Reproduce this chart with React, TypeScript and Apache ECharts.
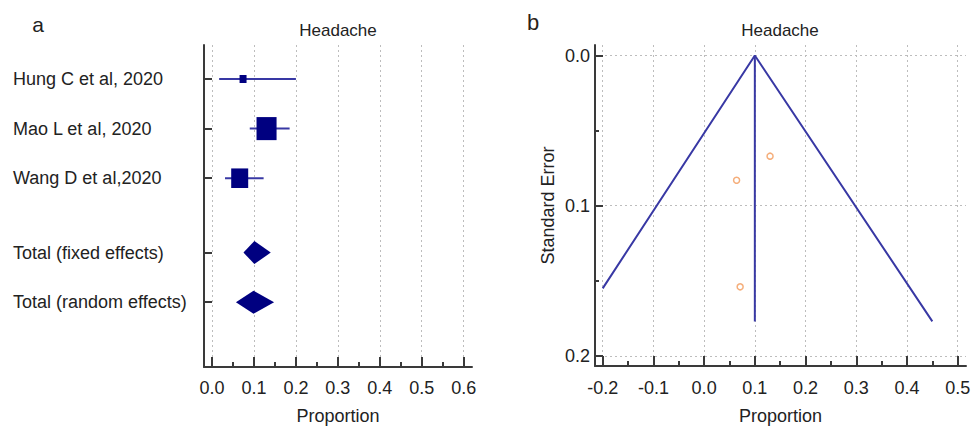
import React, { useEffect, useRef } from 'react';
import * as echarts from 'echarts';

// ---- Panel a: forest plot data ----
const studyNames = ['Hung C et al, 2020', 'Mao L et al, 2020', 'Wang D et al,2020'];
const studyRows = [1, 2, 3];
const studyEst = [0.074, 0.13, 0.066];
const studyLo = [0.017, 0.09, 0.031];
const studyHi = [0.2, 0.185, 0.123];
const studyWeight = [6.6, 54.3, 39.1];

const pooledNames = ['Total (fixed effects)', 'Total (random effects)'];
const pooledRows = [4.5, 5.5];
const pooledEst = [0.101, 0.099];
const pooledLo = [0.075, 0.057];
const pooledHi = [0.14, 0.148];

const forestTicks = [0, 0.1, 0.2, 0.3, 0.4, 0.5, 0.6];
const forestMinor = [0.05, 0.15, 0.25, 0.35, 0.45, 0.55];

// ---- Panel b: funnel plot data ----
const funnelTicksX = [-0.2, -0.1, 0, 0.1, 0.2, 0.3, 0.4, 0.5];
const funnelMinorX = [-0.15, -0.05, 0.05, 0.15, 0.25, 0.35, 0.45];
const funnelTicksY = [0, 0.1, 0.2];
const funnelMinorY = [0.05, 0.15];

const pointProportion = [0.13, 0.064, 0.071];
const pointSE = [0.067, 0.083, 0.154];

const funnelEdgeX = [-0.2, 0.1, 0.45];
const funnelEdgeSE = [0.155, 0, 0.177];
const funnelMidX = [0.1, 0.1];
const funnelMidSE = [0, 0.177];

const FONT = '"Liberation Sans", Arial, sans-serif';
const AXIS = '#3a3a3a';
const GRID = '#bdbdbd';
const NAVY = '#000080';
const LINE = '#3838a4';

const allRows = [...studyRows, ...pooledRows];
const allNames = [...studyNames, ...pooledNames];
const rowLabel = (v: number) => {
  const i = allRows.findIndex((r) => Math.abs(r - v) < 1e-6);
  return i >= 0 ? allNames[i] : '';
};

export default function App() {
  const ref = useRef<HTMLDivElement>(null);
  useEffect(() => {
    if (!ref.current) return;
    const chart = echarts.init(ref.current, undefined, { renderer: 'svg' });
    const axisLine = { onZero: false, lineStyle: { color: AXIS, width: 2 } };
    const tickStyle = { color: AXIS, width: 2 };
    const labelStyle = { fontSize: 18, color: '#222', fontFamily: FONT };
    const fmt = (v: number) => v.toFixed(1);
    const option: any = {
      animation: false,
      textStyle: { fontFamily: FONT },
      graphic: [
        { type: 'text', x: 338, y: 30, style: { text: 'Headache', fontSize: 17, fill: '#222', align: 'center', verticalAlign: 'middle', fontFamily: FONT } },
        { type: 'text', x: 780, y: 30, style: { text: 'Headache', fontSize: 17, fill: '#222', align: 'center', verticalAlign: 'middle', fontFamily: FONT } },
        { type: 'text', x: 38, y: 24, style: { text: 'a', fontSize: 21, fill: '#222', align: 'center', verticalAlign: 'middle', fontFamily: FONT } },
        { type: 'text', x: 533, y: 22, style: { text: 'b', fontSize: 22, fill: '#2a2218', align: 'center', verticalAlign: 'middle', fontFamily: FONT } },
      ],
      grid: [
        { left: 204, top: 45, width: 268, height: 322, containLabel: false, outerBoundsMode: 'none' },
        { left: 595, top: 45, width: 371, height: 321, containLabel: false, outerBoundsMode: 'none' },
      ],
      xAxis: [
        {
          gridIndex: 0, type: 'value', min: -0.0191, max: 0.6198, position: 'bottom',
          axisLine,
          axisTick: { inside: true, length: 10, customValues: forestTicks, lineStyle: tickStyle },
          axisLabel: { customValues: forestTicks, formatter: fmt, margin: 12, ...labelStyle },
          splitLine: { show: true, lineStyle: { color: GRID, type: [2, 3], width: 1 } },
          name: 'Proportion', nameLocation: 'middle', nameGap: 40, nameTextStyle: labelStyle,
        },
        {
          gridIndex: 0, type: 'value', min: -0.0191, max: 0.6198, position: 'bottom',
          axisLine: { show: false, onZero: false },
          axisTick: { inside: true, length: 5, customValues: forestMinor, lineStyle: tickStyle },
          axisLabel: { show: false }, splitLine: { show: false },
        },
        {
          gridIndex: 1, type: 'value', min: -0.2152, max: 0.5164, position: 'bottom',
          axisLine,
          axisTick: { inside: true, length: 10, customValues: funnelTicksX, lineStyle: tickStyle },
          axisLabel: { customValues: funnelTicksX, formatter: fmt, margin: 13, ...labelStyle },
          splitLine: { show: true, lineStyle: { color: GRID, type: [2, 3], width: 1 } },
          name: 'Proportion', nameLocation: 'middle', nameGap: 41, nameTextStyle: labelStyle,
        },
        {
          gridIndex: 1, type: 'value', min: -0.2152, max: 0.5164, position: 'bottom',
          axisLine: { show: false, onZero: false },
          axisTick: { inside: true, length: 5, customValues: funnelMinorX, lineStyle: tickStyle },
          axisLabel: { show: false }, splitLine: { show: false },
        },
      ],
      yAxis: [
        {
          gridIndex: 0, type: 'value', inverse: true, min: 0.3145, max: 6.806, position: 'left',
          axisLine,
          axisTick: { inside: true, length: 8, customValues: allRows, lineStyle: tickStyle },
          axisLabel: { customValues: allRows, formatter: rowLabel, align: 'left', margin: 191, ...labelStyle },
          splitLine: { show: false },
        },
        {
          gridIndex: 1, type: 'value', inverse: true, min: -0.007, max: 0.2067, position: 'left',
          axisLine,
          axisTick: { inside: true, length: 8, customValues: funnelTicksY, lineStyle: tickStyle },
          axisLabel: { customValues: funnelTicksY, formatter: fmt, margin: 5, ...labelStyle },
          splitLine: { show: true, lineStyle: { color: GRID, type: [2, 3], width: 1 } },
          name: 'Standard Error', nameLocation: 'middle', nameGap: 38, nameRotate: 90, nameTextStyle: labelStyle,
        },
        {
          gridIndex: 1, type: 'value', inverse: true, min: -0.007, max: 0.2067, position: 'left',
          axisLine: { show: false, onZero: false },
          axisTick: { inside: true, length: 4, customValues: funnelMinorY, lineStyle: tickStyle },
          axisLabel: { show: false }, splitLine: { show: false },
        },
      ],
      series: [
        {
          type: 'custom', xAxisIndex: 0, yAxisIndex: 0,
          data: studyNames.map((_, i) => [studyEst[i], studyLo[i], studyHi[i], studyRows[i], studyWeight[i]]),
          encode: { x: [0, 1, 2], y: 3 },
          renderItem: (params: any, api: any) => {
            const y = api.value(3);
            const c = api.coord([api.value(0), y]);
            const l = api.coord([api.value(1), y]);
            const h = api.coord([api.value(2), y]);
            const w = 2.72 * Math.sqrt(api.value(4));
            const hh = w * 1.15;
            return {
              type: 'group',
              children: [
                { type: 'line', shape: { x1: l[0], y1: l[1], x2: h[0], y2: h[1] }, style: { stroke: LINE, lineWidth: 2 } },
                { type: 'rect', shape: { x: c[0] - w / 2, y: c[1] - hh / 2, width: w, height: hh }, style: { fill: NAVY } },
              ],
            };
          },
        },
        {
          type: 'custom', xAxisIndex: 0, yAxisIndex: 0,
          data: pooledNames.map((_, i) => [pooledEst[i], pooledLo[i], pooledHi[i], pooledRows[i]]),
          encode: { x: [0, 1, 2], y: 3 },
          renderItem: (params: any, api: any) => {
            const y = api.value(3);
            const c = api.coord([api.value(0), y]);
            const l = api.coord([api.value(1), y]);
            const h = api.coord([api.value(2), y]);
            return {
              type: 'polygon',
              shape: { points: [[l[0], l[1]], [c[0], c[1] - 11.5], [h[0], h[1]], [c[0], c[1] + 11.5]] },
              style: { fill: NAVY },
            };
          },
        },
        {
          type: 'line', xAxisIndex: 2, yAxisIndex: 1, showSymbol: false, symbol: 'none',
          data: funnelEdgeX.map((x, i) => [x, funnelEdgeSE[i]]),
          lineStyle: { color: LINE, width: 2 },
        },
        {
          type: 'line', xAxisIndex: 2, yAxisIndex: 1, showSymbol: false, symbol: 'none',
          data: funnelMidX.map((x, i) => [x, funnelMidSE[i]]),
          lineStyle: { color: LINE, width: 2 },
        },
        {
          type: 'scatter', xAxisIndex: 2, yAxisIndex: 1, symbol: 'circle', symbolSize: 6,
          data: pointProportion.map((x, i) => [x, pointSE[i]]),
          itemStyle: { color: '#ffffff', borderColor: '#f39a5a', borderWidth: 1.5 },
        },
      ],
    };
    chart.setOption(option);
    return () => chart.dispose();
  }, []);
  return <div ref={ref} style={{ position: 'fixed', left: 0, top: 0, width: 972, height: 428, background: '#fff' }} />;
}
